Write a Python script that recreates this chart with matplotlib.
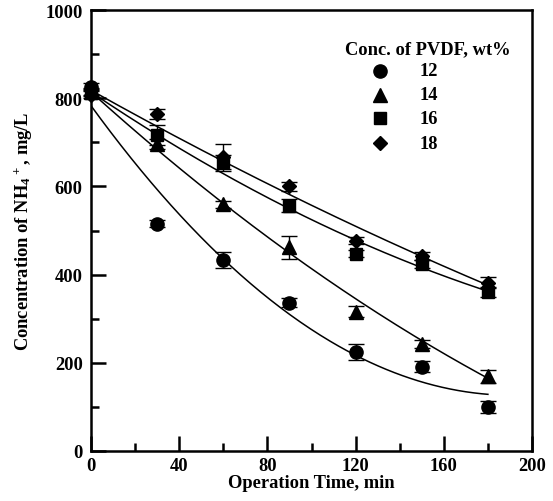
import matplotlib

matplotlib.use("Agg")

import matplotlib.pyplot as plt
import numpy as np

# Operation time (min) and NH4+ concentration (mg/L) per PVDF loading (wt%)
TIME = [0, 30, 60, 90, 120, 150, 180]
CONC_12 = [826, 515, 433, 336, 224, 191, 100]
ERR_12 = [8, 8, 19, 10, 18, 12, 13]
CONC_14 = [815, 696, 560, 462, 316, 243, 169]
ERR_14 = [8, 11, 8, 26, 13, 9, 15]
CONC_16 = [812, 717, 655, 556, 447, 424, 360]
ERR_16 = [8, 22, 16, 15, 8, 10, 11]
CONC_18 = [808, 764, 666, 600, 477, 443, 382]
ERR_18 = [8, 11, 30, 10, 8, 9, 12]

# fitted trend lines: c0 + c1*t + c2*t^2
FIT_12 = (783, -6.876, 0.018)
FIT_14 = (814, -4.506, 0.005)
FIT_16 = (814, -3.374, 0.0048)
FIT_18 = (818, -2.798, 0.0019)

LABELS = ["12", "14", "16", "18"]
MARKERS = ["o", "^", "s", "D"]
MSIZES = [9.5, 9.5, 8.5, 7]

FS = 13.3

plt.rcParams["font.family"] = ["Liberation Serif", "DejaVu Serif"]
plt.rcParams["font.weight"] = "bold"
plt.rcParams["mathtext.default"] = "regular"

fig = plt.figure(figsize=(5.53, 5.02), dpi=100)
ax = fig.add_axes([91 / 553, 50 / 502, 441 / 553, 441 / 502])

series = [CONC_12, CONC_14, CONC_16, CONC_18]
errors = [ERR_12, ERR_14, ERR_16, ERR_18]
fits = [FIT_12, FIT_14, FIT_16, FIT_18]

tt = np.linspace(TIME[0], TIME[-1], 200)
for conc, err, fit, mk, ms in zip(series, errors, fits, MARKERS, MSIZES):
    c0, c1, c2 = fit
    ax.plot(tt, c0 + c1 * tt + c2 * tt**2, color="black", lw=1.1, zorder=2)
    ax.errorbar(TIME, conc, yerr=err, fmt=mk, color="black", ms=ms,
                ecolor="black", elinewidth=1.0, capsize=5.5, capthick=1.0,
                clip_on=False, zorder=3)

ax.set_xlim(0, 200)
ax.set_ylim(0, 1000)
ax.set_xticks(np.arange(0, 201, 40))
ax.set_xticks(np.arange(20, 200, 40), minor=True)
ax.set_yticks(np.arange(0, 1001, 200))
ax.set_yticks(np.arange(100, 1000, 200), minor=True)
ax.tick_params(which="both", direction="in", width=1.8, labelsize=FS)
ax.tick_params(which="major", length=11)
ax.tick_params(which="minor", length=6)
ax.tick_params(axis="x", pad=4)
ax.tick_params(axis="y", pad=6)
for sp in ax.spines.values():
    sp.set_linewidth(1.8)

ax.set_xlabel("Operation Time, min", fontsize=FS, fontweight="bold", labelpad=0)
ax.set_ylabel("Concentration of NH$_4{}^+$, mg/L", fontsize=FS,
              fontweight="bold", labelpad=8)

# legend drawn by hand to match the original layout
ax.text(0.764, 0.912, "Conc. of PVDF, wt%", transform=ax.transAxes,
        ha="center", va="center", fontsize=FS, fontweight="bold")
rows = [0.862, 0.808, 0.755, 0.698]
for lab, mk, ms, yy in zip(LABELS, MARKERS, MSIZES, rows):
    ax.plot([0.655], [yy], mk, color="black", ms=ms, transform=ax.transAxes)
    ax.text(0.746, yy, lab, transform=ax.transAxes, ha="left", va="center",
            fontsize=FS, fontweight="bold")

fig.savefig("out.png", dpi=100)
